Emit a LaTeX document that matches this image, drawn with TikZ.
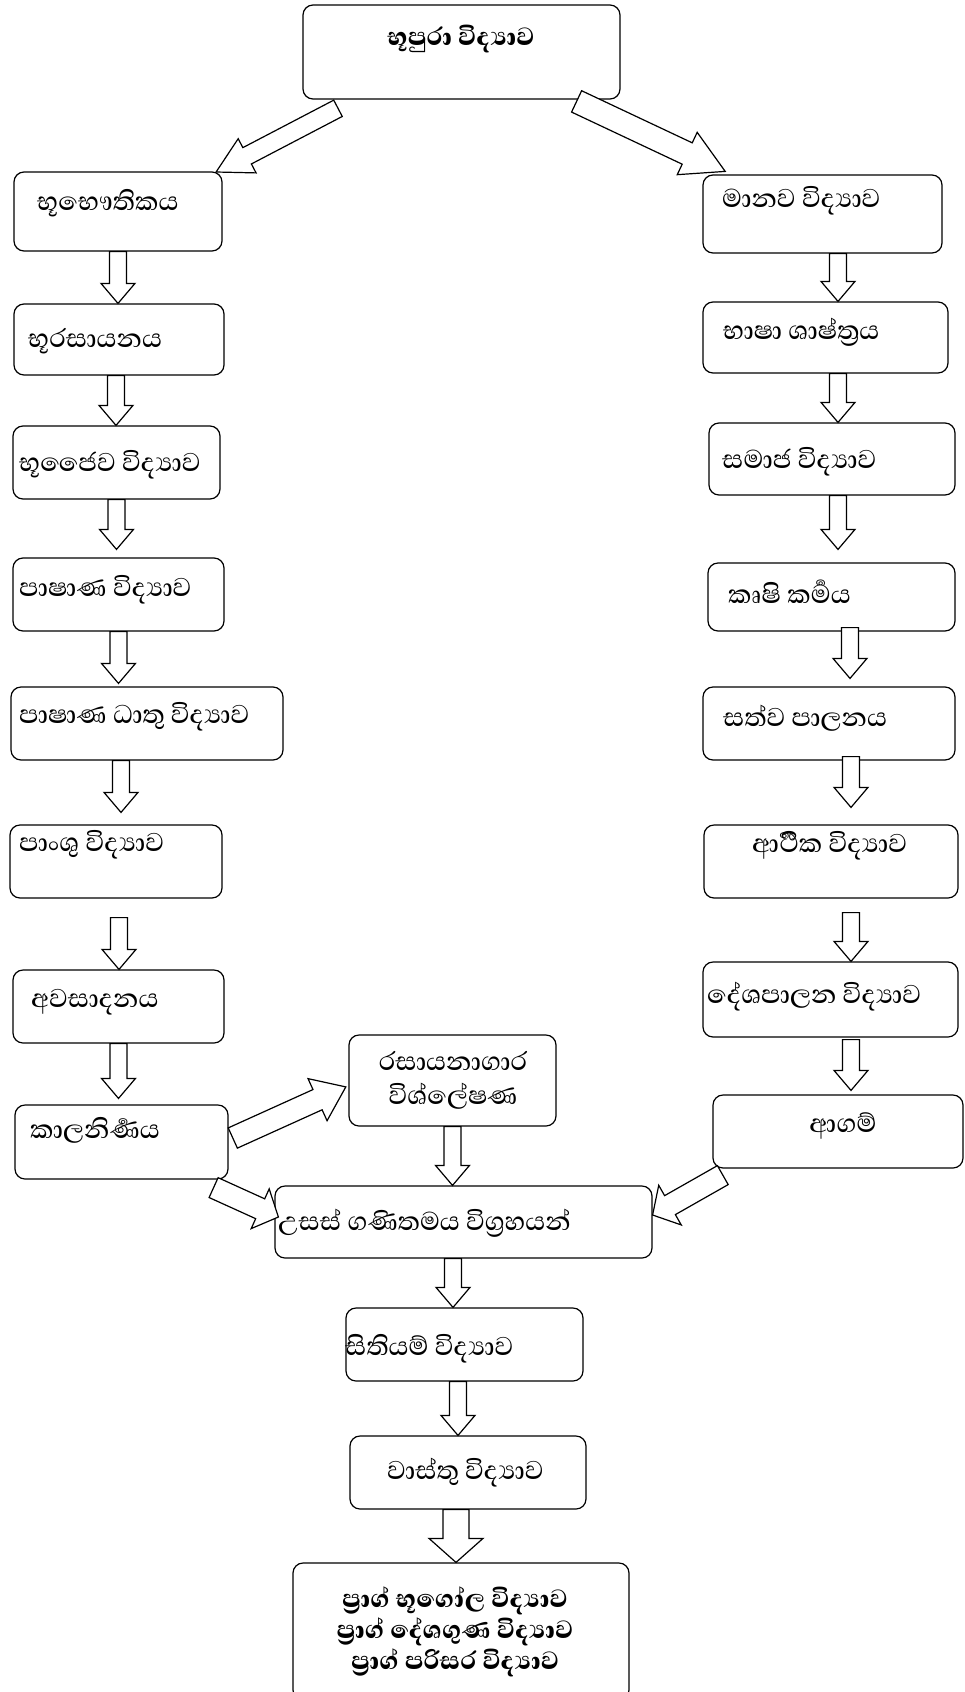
\documentclass[tikz,border=0pt]{standalone}
\usepackage{fontspec}
\newfontfamily\sinhala[Script=Sinhala, UprightFont={* Medium}, BoldFont={* ExtraBold}]{Abhaya Libre}
\usetikzlibrary{calc}

\begin{document}
\begin{tikzpicture}[x=1pt, y=-1pt,
    every node/.style={font=\sinhala\fontsize{33}{34}\selectfont},
    box/.style={draw, line width=1.2pt, rounded corners=10pt, inner sep=0pt},
    lbl/.style={anchor=west, inner sep=0pt},
    ctr/.style={inner sep=0pt, align=center},
    boldtxt/.style={inner sep=0pt, align=center,
                    font=\sinhala\bfseries\fontsize{32}{31}\selectfont},
    blockarrow/.style n args={3}{draw, fill=white, line width=1.2pt,
      to path={($(\tikztostart)!#1!90:(\tikztotarget)$)
        -- ($(\tikztotarget)!#3!(\tikztostart)!#1!90:(\tikztotarget)$)
        -- ($(\tikztotarget)!#3!(\tikztostart)!#2!90:(\tikztotarget)$)
        -- (\tikztotarget)
        -- ($(\tikztotarget)!#3!(\tikztostart)!#2!-90:(\tikztotarget)$)
        -- ($(\tikztotarget)!#3!(\tikztostart)!#1!-90:(\tikztotarget)$)
        -- ($(\tikztostart)!#1!-90:(\tikztotarget)$) -- cycle}},
    downarrow/.style={blockarrow={8.5pt}{17pt}{20pt}},
  ]
  \path[use as bounding box, clip] (0,0) rectangle (965,1692);

  % top
  \node[box, minimum width=317pt, minimum height=94pt] (geoarch) at (461.5,52) {};
  \node[boldtxt] (geoarcht) at (461,39) {භූපුරා විද්^^^^200dයාව};

  % left column
  \node[box, minimum width=208pt, minimum height=79pt] (phys)    at (118,211.5)  {};
  \node[box, minimum width=210pt, minimum height=71pt] (chemgeo) at (119,339.5)  {};
  \node[box, minimum width=207pt, minimum height=73pt] (bio)     at (116.5,462.5) {};
  \node[box, minimum width=211pt, minimum height=73pt] (petro)   at (118.5,594.5) {};
  \node[box, minimum width=272pt, minimum height=73pt] (mineral) at (147,723.5)  {};
  \node[box, minimum width=212pt, minimum height=73pt] (soil)    at (116,861.5)  {};
  \node[box, minimum width=211pt, minimum height=73pt] (sedim)   at (118.5,1006.5) {};
  \node[box, minimum width=213pt, minimum height=74pt] (dating)  at (121.5,1142) {};

  \node[lbl] (physt)    at (37,203)  {භූභෞතිකය};
  \node[lbl] (chemgeot) at (28,341)  {භූරසායනය};
  \node[lbl] (biot)     at (19,465)  {භූජෛව විද්^^^^200dයාව};
  \node[lbl] (petrot)   at (19,590)  {පාෂාණ විද්^^^^200dයාව};
  \node[lbl] (mineralt) at (19,717)  {පාෂාණ ධාතු විද්^^^^200dයාව};
  \node[lbl] (soilt)    at (19,845)  {පාංශු විද්^^^^200dයාව};
  \node[lbl] (sedimt)   at (31,1002) {අවසාදනය};
  \node[lbl] (datingt)  at (30,1130) {කාලනිර්^^^^200dණය};

  % right column
  \node[box, minimum width=239pt, minimum height=78pt] (anthro) at (822.5,214)  {};
  \node[box, minimum width=245pt, minimum height=71pt] (ling)   at (825.5,337.5) {};
  \node[box, minimum width=246pt, minimum height=72pt] (socio)  at (832,459)    {};
  \node[box, minimum width=247pt, minimum height=68pt] (agri)   at (831.5,597)  {};
  \node[box, minimum width=252pt, minimum height=73pt] (animal) at (829,723.5)  {};
  \node[box, minimum width=254pt, minimum height=73pt] (econ)   at (831,861.5)  {};
  \node[box, minimum width=255pt, minimum height=75pt] (polit)  at (830.5,999.5) {};
  \node[box, minimum width=250pt, minimum height=73pt] (relig)  at (838,1131.5) {};

  \node[lbl] (anthrot) at (722,201)  {මානව විද්^^^^200dයාව};
  \node[lbl] (lingt)   at (723,332)  {භාෂා ශාෂ්ත්^^^^200dරය};
  \node[lbl] (sociot)  at (722,462)  {සමාජ විද්^^^^200dයාව};
  \node[lbl] (agrit)   at (728,592)  {කෘෂි කර්^^^^200dමය};
  \node[lbl] (animalt) at (723,718)  {සත්ව පාලනය};
  \node[lbl] (econt)   at (752,846)  {ආර්^^^^200dථික විද්^^^^200dයාව};
  \node[lbl] (politt)  at (707,997)  {දේශපාලන විද්^^^^200dයාව};
  \node[ctr] (religt)  at (843,1126) {ආගම්};

  % centre
  \node[box, minimum width=207pt, minimum height=91pt] (lab)   at (452.5,1080.5) {};
  \node[box, minimum width=377pt, minimum height=72pt] (math)  at (463.5,1222)   {};
  \node[box, minimum width=237pt, minimum height=73pt] (carto) at (464.5,1344.5) {};
  \node[box, minimum width=236pt, minimum height=73pt] (archi) at (468,1472.5)   {};
  \node[box, minimum width=336pt, minimum height=137pt] (paleo) at (461,1631.5)  {};

  \node[ctr] (labt) at (453,1080) {රසායනාගාර\\විශ්ලේෂණ};
  \node[lbl] (matht)  at (278,1223) {උසස් ගණිතමය විග්^^^^200dරහයන්};
  \node[lbl] (cartot) at (345,1349) {සිතියම් විද්^^^^200dයාව};
  \node[lbl] (archit) at (387,1473) {වාස්තු විද්^^^^200dයාව};
  \node[boldtxt] (paleot) at (455,1632)
    {ප්^^^^200dරාග් භූගෝල විද්^^^^200dයාව\\ප්^^^^200dරාග් දේශගුණ විද්^^^^200dයාව\\ප්^^^^200dරාග් පරිසර විද්^^^^200dයාව};

  % arrows down the left column
  \draw[downarrow] (phys.south) to (phys.south |- chemgeo.north);
  \draw[downarrow] ([xshift=-3pt]chemgeo.south) to ([xshift=-3pt]chemgeo.south |- bio.north);
  \draw[downarrow] (bio.south) to ([shift={(0,-8)}]bio.south |- petro.north);
  \draw[downarrow] (petro.south) to ([shift={(0,-3)}]petro.south |- mineral.north);
  \draw[downarrow] ([xshift=-26pt]mineral.south) to ([shift={(-26,-12)}]mineral.south |- soil.north);
  \draw[downarrow] ([shift={(3,19)}]soil.south) to ([xshift=3pt]soil.south |- sedim.north);
  \draw[downarrow] (sedim.south) to ([shift={(0,-6)}]sedim.south |- dating.north);

  % arrows down the right column
  \draw[downarrow] ([xshift=15.5pt]anthro.south) to ([xshift=15.5pt]anthro.south |- ling.north);
  \draw[downarrow] ([xshift=12.5pt]ling.south) to ([xshift=12.5pt]ling.south |- socio.north);
  \draw[downarrow] ([xshift=6pt]socio.south) to ([shift={(6,-13)}]socio.south |- agri.north);
  \draw[downarrow] ([shift={(18.5,-4)}]agri.south) to ([shift={(18.5,-8)}]agri.south |- animal.north);
  \draw[downarrow] ([shift={(22,-4)}]animal.south) to ([shift={(22,-17)}]animal.south |- econ.north);
  \draw[downarrow] ([shift={(20,14)}]econ.south) to ([xshift=20pt]econ.south |- polit.north);
  \draw[downarrow] ([shift={(20.5,2)}]polit.south) to ([shift={(20.5,-4)}]polit.south |- relig.north);

  % arrows down the centre
  \draw[downarrow] (lab.south) to (lab.south |- math.north);
  \draw[downarrow] ([xshift=-10.5pt]math.south) to ([xshift=-10.5pt]math.south |- carto.north);
  \draw[downarrow] ([xshift=-6.5pt]carto.south) to ([xshift=-6.5pt]carto.south |- archi.north);
  \draw[blockarrow={13pt}{27pt}{24pt}] ([xshift=-12pt]archi.south) to ([xshift=-12pt]archi.south |- paleo.north);

  % slanted arrows
  \draw[blockarrow={9.2pt}{19.3pt}{35pt}] ([shift={(35.6,8.7)}]geoarch.south west)
    to ([shift={(-6.5,0.6)}]phys.north east);
  \draw[blockarrow={11.8pt}{23.4pt}{42pt}] ([shift={(-44,1.8)}]geoarch.south east)
    to ([shift={(22.8,-3)}]anthro.north west);
  \draw[blockarrow={11.1pt}{23.1pt}{31pt}] ([shift={(4.2,-4)}]dating.east)
    to ([shift={(-2.6,6.4)}]lab.west);
  \draw[blockarrow={10.9pt}{21.8pt}{20pt}] ([shift={(-15,8)}]dating.south east)
    to ([shift={(4,-5)}]math.west);
  \draw[blockarrow={10.9pt}{22.8pt}{20pt}] ([shift={(10.4,6.5)}]relig.south west)
    to ([shift={(0,-7)}]math.east);
\end{tikzpicture}
\end{document}
